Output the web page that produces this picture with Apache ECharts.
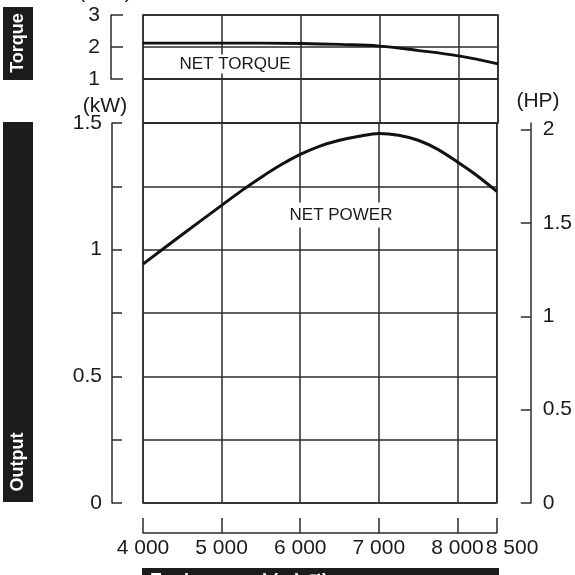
<!DOCTYPE html>
<html>
<head>
<meta charset="utf-8">
<script src="https://cdn.jsdelivr.net/npm/echarts@6/dist/echarts.min.js"></script>
<style>
html,body{margin:0;padding:0;background:#fff;}
#c{width:575px;height:575px;}
</style>
</head>
<body>
<div id="c"></div>
<script>
// ---- data ----
const rpmTicks = [4000, 5000, 6000, 7000, 8000, 8500];
const torqueRpm = [4000, 4500, 5000, 5500, 6000, 6500, 7000, 7500, 8000, 8500];
const torqueNm = [2.12, 2.12, 2.12, 2.12, 2.11, 2.08, 2.03, 1.89, 1.72, 1.47];
const powerRpm = [4000, 4500, 5000, 5250, 5500, 5750, 6000, 6250, 6500, 6750, 7000, 7250, 7500, 7750, 8000, 8250, 8500];
const powerKW = [0.943, 1.060, 1.175, 1.232, 1.285, 1.334, 1.376, 1.409, 1.432, 1.448, 1.459, 1.452, 1.432, 1.396, 1.346, 1.292, 1.230];
const hpTicks = [0, 0.5, 1, 1.5, 2];
const kwMax = 1.5;
const hpMax = 2.035;

const FONT = "'Liberation Sans Narrow','Arial Narrow','Liberation Sans',Arial,sans-serif";
const LC = '#2b2b2b';
const LW = 1.5;
const FS = 21;

function fmtK(v){ return String(v).replace(/\B(?=(\d{3})+(?!\d))/g, ' '); }

const chart = echarts.init(document.getElementById('c'), null, {renderer:'canvas'});

const gridCommon = {left:143, right:77, show:true, borderColor:LC, borderWidth:LW, backgroundColor:'transparent', containLabel:false};
const xHidden = (gi) => ({
  type:'value', gridIndex:gi, min:4000, max:8500, interval:1000,
  axisLine:{show:false}, axisTick:{show:false}, axisLabel:{show:false},
  splitLine:{show:true, lineStyle:{color:LC, width:LW}}
});

const option = {
  animation:false,
  backgroundColor:'#fff',
  grid:[
    Object.assign({top:15, height:64}, gridCommon),
    Object.assign({top:79, height:44}, gridCommon),
    Object.assign({top:123, height:380}, gridCommon)
  ],
  xAxis:[
    xHidden(0),
    xHidden(1),
    {
      type:'value', gridIndex:2, min:4000, max:8500, interval:1000,
      position:'bottom', offset:30,
      axisLine:{show:true, onZero:false, lineStyle:{color:LC, width:LW}},
      axisTick:{show:true, inside:true, length:15, customValues:rpmTicks, lineStyle:{color:LC, width:LW}},
      axisLabel:{
        show:true, margin:5, color:'#1a1a1a', fontSize:FS, fontFamily:FONT,
        customValues:rpmTicks, hideOverlap:false, showMaxLabel:true, showMinLabel:true,
        alignMaxLabel:'left',
        formatter:function(v){ return v === 8500 ? '{r|' + fmtK(v) + '}' : fmtK(v); },
        rich:{ r:{ fontSize:FS, fontFamily:FONT, color:'#1a1a1a', padding:[0,0,0,-11] } }
      },
      splitLine:{show:true, lineStyle:{color:LC, width:LW}}
    }
  ],
  yAxis:[
    {
      type:'value', gridIndex:0, min:1, max:3, interval:1, position:'left', offset:32,
      axisLine:{show:true, onZero:false, lineStyle:{color:LC, width:LW}},
      axisTick:{show:true, inside:true, length:12, lineStyle:{color:LC, width:LW}},
      axisLabel:{show:true, margin:11, color:'#1a1a1a', fontSize:FS, fontFamily:FONT},
      splitLine:{show:true, lineStyle:{color:LC, width:LW}}
    },
    {
      type:'value', gridIndex:1, min:0, max:1, show:true,
      axisLine:{show:false}, axisTick:{show:false}, axisLabel:{show:false}, splitLine:{show:false}
    },
    {
      type:'value', gridIndex:2, min:0, max:kwMax, interval:0.25, position:'left', offset:31,
      axisLine:{show:true, onZero:false, lineStyle:{color:LC, width:LW}},
      axisTick:{show:true, inside:true, length:10, lineStyle:{color:LC, width:LW}},
      axisLabel:{show:true, margin:10, color:'#1a1a1a', fontSize:FS, fontFamily:FONT,
        formatter:function(v){ return (Math.round(v*4) % 2 === 0) ? String(v) : ''; }},
      splitLine:{show:true, lineStyle:{color:LC, width:LW}}
    },
    {
      type:'value', gridIndex:2, min:0, max:hpMax, position:'right', offset:34,
      axisLine:{show:true, onZero:false, lineStyle:{color:LC, width:LW}},
      axisTick:{show:true, inside:true, length:10, customValues:hpTicks, lineStyle:{color:LC, width:LW}},
      axisLabel:{show:true, margin:12, color:'#1a1a1a', fontSize:FS, fontFamily:FONT, customValues:hpTicks},
      splitLine:{show:false}
    }
  ],
  series:[
    {
      type:'line', xAxisIndex:0, yAxisIndex:0, smooth:0.4, showSymbol:false,
      data: torqueRpm.map((r,i)=>[r, torqueNm[i]]),
      lineStyle:{color:'#111', width:2.8}, z:5
    },
    {
      type:'line', xAxisIndex:2, yAxisIndex:2, smooth:0.3, showSymbol:false,
      data: powerRpm.map((r,i)=>[r, powerKW[i]]),
      lineStyle:{color:'#111', width:3}, z:5
    }
  ],
  graphic:[
    {type:'rect', z:100, shape:{x:3, y:7, width:30, height:73}, style:{fill:'#1c1c1c'}},
    {type:'text', z:101, x:18, y:43, rotation:Math.PI/2,
      style:{text:'Torque', fill:'#fff', font:"bold 18px 'Liberation Sans',Arial,sans-serif", textAlign:'center', textVerticalAlign:'middle'}},
    {type:'rect', z:100, shape:{x:3, y:122, width:30, height:380}, style:{fill:'#1c1c1c'}},
    {type:'text', z:101, x:18, y:462, rotation:Math.PI/2,
      style:{text:'Output', fill:'#fff', font:"bold 18px 'Liberation Sans',Arial,sans-serif", textAlign:'center', textVerticalAlign:'middle'}},
    {type:'rect', z:100, shape:{x:142, y:568, width:357, height:30}, style:{fill:'#1c1c1c'}},
    {type:'text', z:101, x:150, y:572,
      style:{text:'Engine speed (min⁻¹)', fill:'#fff', font:"bold 18px 'Liberation Sans',Arial,sans-serif", textAlign:'left', textVerticalAlign:'top'}},
    {type:'text', z:101, x:105, y:-8,
      style:{text:'(N·m)', fill:'#1a1a1a', font:FS + "px " + FONT, textAlign:'center', textVerticalAlign:'middle'}},
    {type:'text', z:101, x:105, y:106,
      style:{text:'(kW)', fill:'#1a1a1a', font:FS + "px " + FONT, textAlign:'center', textVerticalAlign:'middle'}},
    {type:'text', z:101, x:538, y:101,
      style:{text:'(HP)', fill:'#1a1a1a', font:FS + "px " + FONT, textAlign:'center', textVerticalAlign:'middle'}},
    {type:'text', z:50, x:235, y:64,
      style:{text:'NET TORQUE', fill:'#1a1a1a', font:"17px " + FONT, textAlign:'center', textVerticalAlign:'middle', backgroundColor:'#fff', padding:[1,2]}},
    {type:'text', z:50, x:341, y:215,
      style:{text:'NET POWER', fill:'#1a1a1a', font:"17px " + FONT, textAlign:'center', textVerticalAlign:'middle', backgroundColor:'#fff', padding:[4,2]}}
  ]
};
chart.setOption(option);
</script>
</body>
</html>
